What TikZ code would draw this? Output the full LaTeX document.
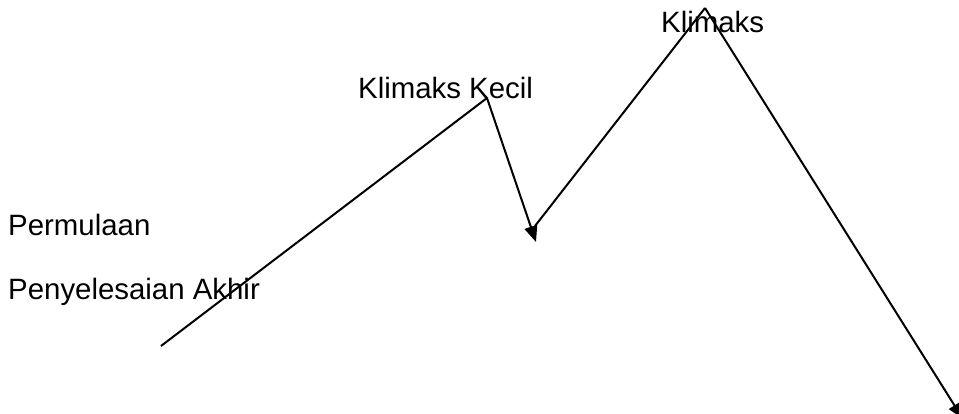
\documentclass[tikz,border=0pt]{standalone}
\usepackage{fontspec}
\setmainfont{Liberation Sans}
\usetikzlibrary{arrows.meta}
\begin{document}
\begin{tikzpicture}[x=1pt,y=-1pt,
  lbl/.style={anchor=base west,inner sep=0pt,font=\fontsize{29.4}{33}\selectfont},
  ln/.style={line width=2pt},
  arr/.style={ln,-{Triangle[length=16pt,width=13pt]}}]
\useasboundingbox (0,0) rectangle (959,414);
\node[lbl] (perm) at (8,236) {Permulaan};
\node[lbl] (peny) at (8,299) {Penyelesaian Akhir};
\node[lbl] (kk) at (358,99) {Klimaks Kecil};
\node[lbl] (kl) at (661,33) {Klimaks};
\coordinate (s) at (161,346);
\coordinate (p1) at (487,98);
\coordinate (v) at (536,242);
\coordinate (v2) at (535,226);
\coordinate (p2) at (705,8);
\coordinate (e) at (963,419);
\draw[ln] (s) -- (p1);
\draw[arr] (p1) -- (v);
\draw[ln] (v2) -- (p2);
\draw[arr] (p2) -- (e);
\end{tikzpicture}
\end{document}
